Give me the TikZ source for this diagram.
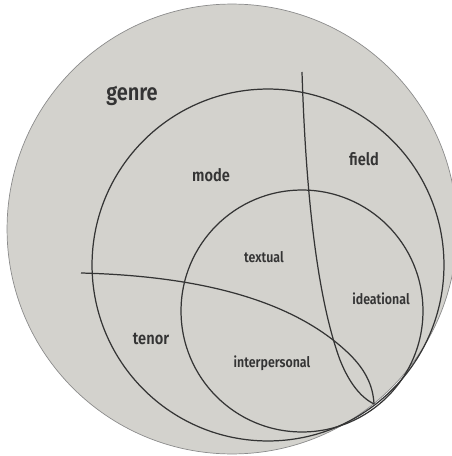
\documentclass[tikz,border=0pt]{standalone}
\usepackage{fontspec}
\setmainfont{Fira Sans}[FakeStretch=0.85,UprightFont={* SemiBold}]
\definecolor{paperGrey}{HTML}{D3D2CD}
\definecolor{inkGrey}{HTML}{343434}

\begin{document}
\begin{tikzpicture}[x=0.02cm,y=-0.02cm,
        ring/.style={circle,draw=inkGrey,line width=0.7pt,inner sep=0pt},
        border/.style={draw=inkGrey,line width=0.7pt},
        biglbl/.style={text=inkGrey,font=\fontsize{13.4}{14}\selectfont},
        lbl/.style={text=inkGrey,font=\fontsize{9.8}{10}\selectfont},
        sublbl/.style={text=inkGrey,font=\fontsize{8.3}{9}\selectfont}]
    \useasboundingbox (0,0) rectangle (452,456);
    \clip (0,0) rectangle (452,456);
    % the three rings
    \node[circle,fill=paperGrey,draw=black!45,line width=0.4pt,inner sep=0pt,minimum size=9cm] (genrering) at (232,229) {};
    \node[ring,minimum size=7.04cm] (modering) at (268,265) {};
    \node[ring,minimum size=4.84cm] (innerring) at (302,311) {};
    % the two dividing lines
    \coordinate (fieldtop) at (302,72);
    \coordinate (tenorleft) at (81,273);
    \coordinate (meet) at (374,404);
    \draw[border] (fieldtop) .. controls (306,200) and (318,300) .. (340,360) .. controls (350,385) and (362,398) .. (meet);
    \draw[border] (tenorleft) .. controls (200,276) and (290,300) .. (345,350) .. controls (365,368) and (373,385) .. (meet);
    % labels
    \node[biglbl] (genre) at (132,96) {genre};
    \node[lbl] (mode) at (211,175) {mode};
    \node[lbl] (field) at (364,159) {field};
    \node[lbl] (tenor) at (151,339) {tenor};
    \node[sublbl] (textual) at (264,257) {textual};
    \node[sublbl] (ideational) at (381,299) {ideational};
    \node[sublbl] (interpersonal) at (272,363) {interpersonal};
\end{tikzpicture}
\end{document}
